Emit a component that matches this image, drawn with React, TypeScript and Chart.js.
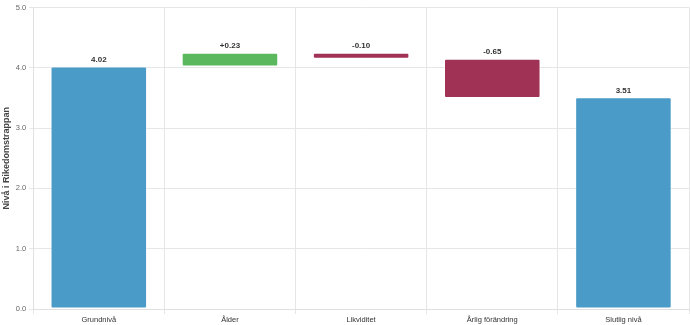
import React, { useEffect, useRef } from "react";
import { Chart, registerables } from "chart.js";

Chart.register(...registerables);

const categories = ["Grundnivå", "Ålder", "Likviditet", "Årlig förändring", "Slutlig nivå"];
const barStarts = [0, 4.02, 4.25, 4.15, 0];
const barEnds = [4.02, 4.25, 4.15, 3.5, 3.51];
const valueLabels = ["4.02", "+0.23", "-0.10", "-0.65", "3.51"];
const barColors = ["#4a9bc8", "#5cb85c", "#a03355", "#a03355", "#4a9bc8"];
const yTitle = "Nivå i Rikedomstrappan";

const FONT = "Helvetica, Arial, 'Liberation Sans', sans-serif";

const labelPlugin = {
  id: "valueLabels",
  afterDatasetsDraw(chart: any) {
    const ctx = chart.ctx;
    const meta = chart.getDatasetMeta(0);
    ctx.save();
    ctx.font = "bold 8px " + FONT;
    ctx.fillStyle = "#333";
    ctx.textAlign = "center";
    ctx.textBaseline = "bottom";
    meta.data.forEach((bar: any, i: number) => {
      const top = Math.min(bar.y, bar.base);
      ctx.fillText(valueLabels[i], bar.x, top - 3);
    });
    ctx.restore();
  },
};

export default function App() {
  const ref = useRef<HTMLCanvasElement>(null);
  useEffect(() => {
    document.body.style.margin = "0";
    const chart = new Chart(ref.current!, {
      type: "bar",
      data: {
        labels: categories,
        datasets: [
          {
            data: barStarts.map((s, i) => [s, barEnds[i]]) as any,
            backgroundColor: barColors,
            borderColor: "rgba(255,255,255,0.5)",
            borderWidth: 1,
            borderRadius: 2,
            borderSkipped: false,
            categoryPercentage: 0.8,
            barPercentage: 0.92,
          },
        ],
      },
      options: {
        animation: false,
        responsive: false,
        maintainAspectRatio: false,
        layout: { padding: { top: 0, right: 1, left: 0, bottom: 0 } },
        plugins: { legend: { display: false }, tooltip: { enabled: false } },
        scales: {
          x: {
            grid: { color: "#e6e6e6", offset: true, tickLength: 5 },
            border: { color: "#e0e0e0" },
            ticks: {
              color: "#333",
              padding: 1,
              font: { size: 7.5, family: FONT },
            },
          },
          y: {
            min: 0,
            max: 5,
            grid: { color: "#e6e6e6", tickLength: 4 },
            border: { color: "#e0e0e0" },
            ticks: {
              stepSize: 1,
              color: "#666",
              padding: 3,
              font: { size: 7.5, family: FONT },
              callback: (v: any) => Number(v).toFixed(1),
            },
            title: {
              display: true,
              text: yTitle,
              color: "#444",
              font: { size: 9, weight: "bold", family: FONT },
              padding: { top: 1, bottom: 1 },
            },
          },
        },
      },
      plugins: [labelPlugin],
    });
    return () => chart.destroy();
  }, []);
  return (
    <div style={{ width: 690, height: 325 }}>
      <canvas ref={ref} width={690} height={325} style={{ display: "block" }} />
    </div>
  );
}
